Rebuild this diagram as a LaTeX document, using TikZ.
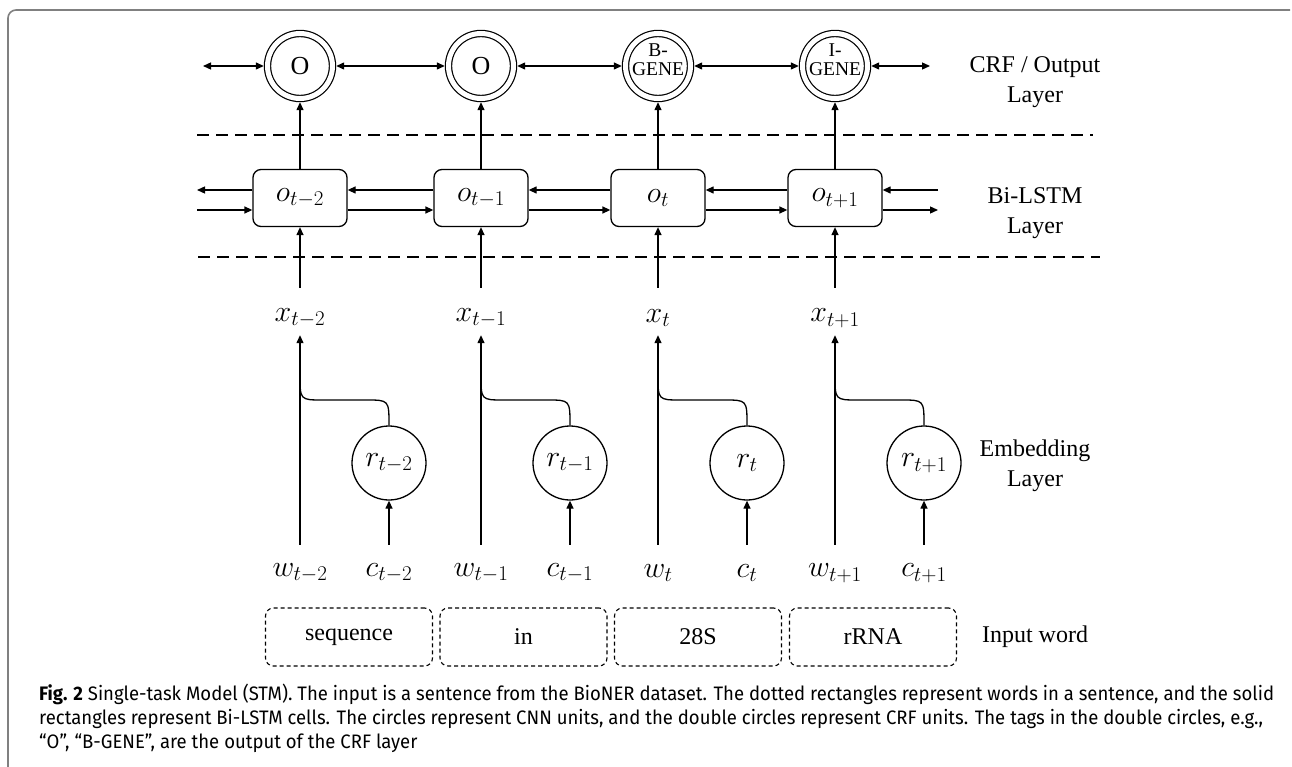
\RequirePackage{fix-cm}
\documentclass[tikz,border=0pt]{standalone}
\usepackage{fontspec}
\setmainfont{Liberation Serif}
\newfontfamily\capfont{Fira Sans}
\usepackage{graphicx}
\usetikzlibrary{arrows.meta,calc}
\newcommand\mathsz{\fontsize{30}{34}\selectfont}
\newcommand\labsz{\fontsize{24}{30}\selectfont}
\newlength\capwd
\newcommand\capone{\textbf{Fig. 2} Single-task Model (STM). The input is a sentence from the BioNER dataset. The dotted rectangles represent words in a sentence, and the solid}
\newcommand\captwo{rectangles represent Bi-LSTM cells. The circles represent CNN units, and the double circles represent CRF units. The tags in the double circles, e.g.,}
\newcommand\capthree{“O”, “B-GENE”, are the output of the CRF layer}
\tikzset{
  ln/.style={line width=1.3pt},
  arr/.style={ln,-{Triangle[length=8pt,width=7pt]}},
  darr/.style={ln,{Triangle[length=8pt,width=7pt]}-{Triangle[length=8pt,width=7pt]}},
  crf/.style={circle,draw,line width=1.2pt,double,double distance=5pt,minimum size=65pt,inner sep=0pt,outer sep=3.7pt,font=\fontsize{26}{30}\selectfont},
  tagtext/.style={align=center,inner sep=0pt,font=\fontsize{19.5}{19}\selectfont},
  lstm/.style={draw,line width=1.3pt,rounded corners=8pt,minimum width=94pt,minimum height=57pt,inner sep=0pt,font=\mathsz},
  cnn/.style={circle,draw,line width=1.3pt,minimum size=74pt,inner sep=0pt,font=\mathsz},
  xlab/.style={minimum height=34pt,inner sep=0pt,font=\mathsz},
  wlab/.style={minimum height=56pt,inner sep=0pt,font=\mathsz},
  sepline/.style={line width=1.2pt,dash pattern=on 12pt off 7pt},
  wordbox/.style={draw,line width=1.1pt,dash pattern=on 4pt off 3pt,rounded corners=8pt,minimum width=167pt,minimum height=58pt,inner sep=0pt,font=\labsz},
  layer/.style={align=center,inner sep=0pt,font=\labsz},
  captext/.style={anchor=west,inner sep=0pt,font=\capfont\fontsize{19.5}{22}\selectfont},
  frame/.style={line width=1.6pt,black!50,rounded corners=8pt}
}
\begin{document}
\settowidth{\capwd}{\capfont\fontsize{19.5}{22}\selectfont\capone}%
\pgfmathsetmacro\capsx{1235/\capwd}%
\begin{tikzpicture}[x=1pt,y=-1pt]
\useasboundingbox (0,0) rectangle (1292,767);
% frame
\coordinate (fa) at (1290,10);
\coordinate (fb) at (8,10);
\coordinate (fc) at (8,767);
\draw[frame] (fa) -- (fb) -- (fc);

% CRF layer
\node[crf] (crf1) at (300,66) {O};
\node[crf] (crf2) at (481,66) {O};
\node[crf] (crf3) at (658,66) {};
\node[crf] (crf4) at (835,66) {};
\node[tagtext] (t3) at (658,60) {B-\\GENE};
\node[tagtext] (t4) at (835,60) {I-\\GENE};
\coordinate (cl) at (203,66);
\coordinate (cr) at (930,66);
\draw[darr] (cl) -- (crf1.west);
\draw[darr] (crf1.east) -- (crf2.west);
\draw[darr] (crf2.east) -- (crf3.west);
\draw[darr] (crf3.east) -- (crf4.west);
\draw[darr] (crf4.east) -- (cr);

% separators
\coordinate (d1a) at (197,135);
\coordinate (d1b) at (1093,135);
\coordinate (d2a) at (198,257);
\coordinate (d2b) at (1100,257);
\draw[sepline] (d1a) -- (d1b);
\draw[sepline] (d2a) -- (d2b);

% columns
\foreach \i/\X/\sub in {1/300/{t-2},2/481/{t-1},3/658/{t},4/835/{t+1}} {
  \node[lstm] (o\i) at (\X,198) {$o_{\sub}$};
  \node[xlab] (x\i) at (\X,318) {$x_{\sub}$};
  \node[cnn] (r\i) at (\X+89,463) {$r_{\sub}$};
  \node[wlab] (w\i) at (\X,573) {$w_{\sub}$};
  \node[wlab] (c\i) at (\X+89,573) {$c_{\sub}$};
  \coordinate (b\i) at (\X,375);
  \draw[arr] (o\i.north) -- (crf\i.south);
  \draw[arr,shorten <=13pt] (x\i.north) -- (o\i.south);
  \draw[arr] (w\i.north) -- (x\i.south);
  \draw[arr] (c\i.north) -- (r\i.south);
  \draw[ln] (b\i) .. controls (\X,400) .. (\X+23,400) -- (\X+66,400) .. controls (\X+89,400) .. (r\i.north);
}

% LSTM recurrent arrows
\coordinate (l1) at (197,190);
\coordinate (l2) at (197,210);
\coordinate (rl1) at (938,190);
\coordinate (rl2) at (938,210);
\draw[arr] (o1.west |- l1) -- (l1);
\draw[arr] (l2) -- (o1.west |- l2);
\foreach \i/\j in {1/2,2/3,3/4} {
  \draw[arr] (o\j.west |- l1) -- (o\i.east |- l1);
  \draw[arr] (o\i.east |- l2) -- (o\j.west |- l2);
}
\draw[arr] (rl1) -- (o4.east |- rl1);
\draw[arr] (o4.east |- rl2) -- (rl2);

% input words
\node[wordbox] (iw1) at (349,637) {sequence};
\node[wordbox] (iw2) at (523.5,637) {in};
\node[wordbox] (iw3) at (698,637) {28S};
\node[wordbox] (iw4) at (873,637) {rRNA};

% layer labels
\node[layer] (L1) at (1035,82) {CRF / Output\\Layer};
\node[layer] (L2) at (1035,213) {Bi-LSTM\\Layer};
\node[layer] (L3) at (1035,466) {Embedding\\Layer};
\node[layer] (L4) at (1035,637) {Input word};

% caption
\node[captext] (cap1) at (39,694) {\scalebox{\capsx}[1]{\capone}};
\node[captext] (cap2) at (39,719) {\scalebox{\capsx}[1]{\captwo}};
\node[captext] (cap3) at (39,743) {\scalebox{\capsx}[1]{\capthree}};
\end{tikzpicture}
\end{document}
